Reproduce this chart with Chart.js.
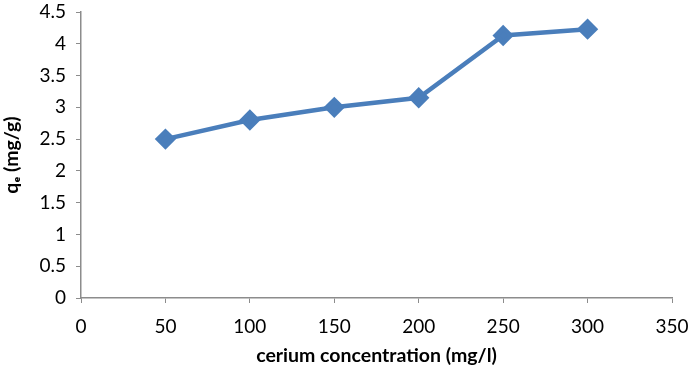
<!DOCTYPE html>
<html><head><meta charset="utf-8">
<script src="https://cdn.jsdelivr.net/npm/chart.js@4"></script>
<style>html,body{margin:0;padding:0;background:#fff}#wrap{width:688px;height:367px}</style>
</head><body><div id="wrap"><canvas id="c" width="688" height="367"></canvas></div>
<script>
const concentration = [50, 100, 150, 200, 250, 300];
const qe = [2.5, 2.8, 3.0, 3.15, 4.13, 4.23];
const xTitle = 'cerium concentration (mg/l)';
const yTitle = 'qₑ (mg/g)';

const axisColor = '#8c8c8c';
const lineColor = '#4a7ebb';
const font = 'Lato, Carlito, "Liberation Sans", sans-serif';

new Chart(document.getElementById('c'), {
  type: 'scatter',
  data: {
    datasets: [{
      data: concentration.map((x, i) => ({x: x, y: qe[i]})),
      showLine: true,
      borderColor: lineColor,
      backgroundColor: lineColor,
      borderWidth: 4.5,
      pointStyle: 'rectRot',
      pointRadius: 7.5,
      pointHoverRadius: 7.5,
      tension: 0
    }]
  },
  options: {
    responsive: false,
    animation: false,
    events: [],
    layout: {padding: {top: 0, right: 0, left: 0, bottom: 0}},
    plugins: {legend: {display: false}, tooltip: {enabled: false}},
    scales: {
      x: {
        type: 'linear', min: 0, max: 350,
        ticks: {stepSize: 50, color: '#000', font: {family: font, size: 19}, padding: 12, maxRotation: 0, callback: v => String(v)},
        grid: {display: true, drawOnChartArea: false, drawTicks: true, tickLength: 5, color: axisColor},
        border: {color: axisColor, width: 1.5},
        title: {display: true, text: xTitle, color: '#000', font: {family: font, size: 19.5, weight: 'bold'}, padding: {top: 2, bottom: 0}},
        afterFit: s => { s.height = 69; s.paddingLeft = 0; s.paddingRight = 16; }
      },
      y: {
        type: 'linear', min: 0, max: 4.5,
        ticks: {stepSize: 0.5, color: '#000', font: {family: font, size: 19}, padding: 10, callback: v => String(v)},
        grid: {display: true, drawOnChartArea: false, drawTicks: true, tickLength: 5, color: axisColor},
        border: {color: axisColor, width: 1.5},
        title: {display: true, text: yTitle, color: '#000', font: {family: font, size: 19.5, weight: 'bold'}, padding: {top: 0, bottom: 4}},
        afterFit: s => { s.width = 81; s.paddingTop = 9; s.paddingBottom = 0; }
      }
    }
  }
});
</script></body></html>
